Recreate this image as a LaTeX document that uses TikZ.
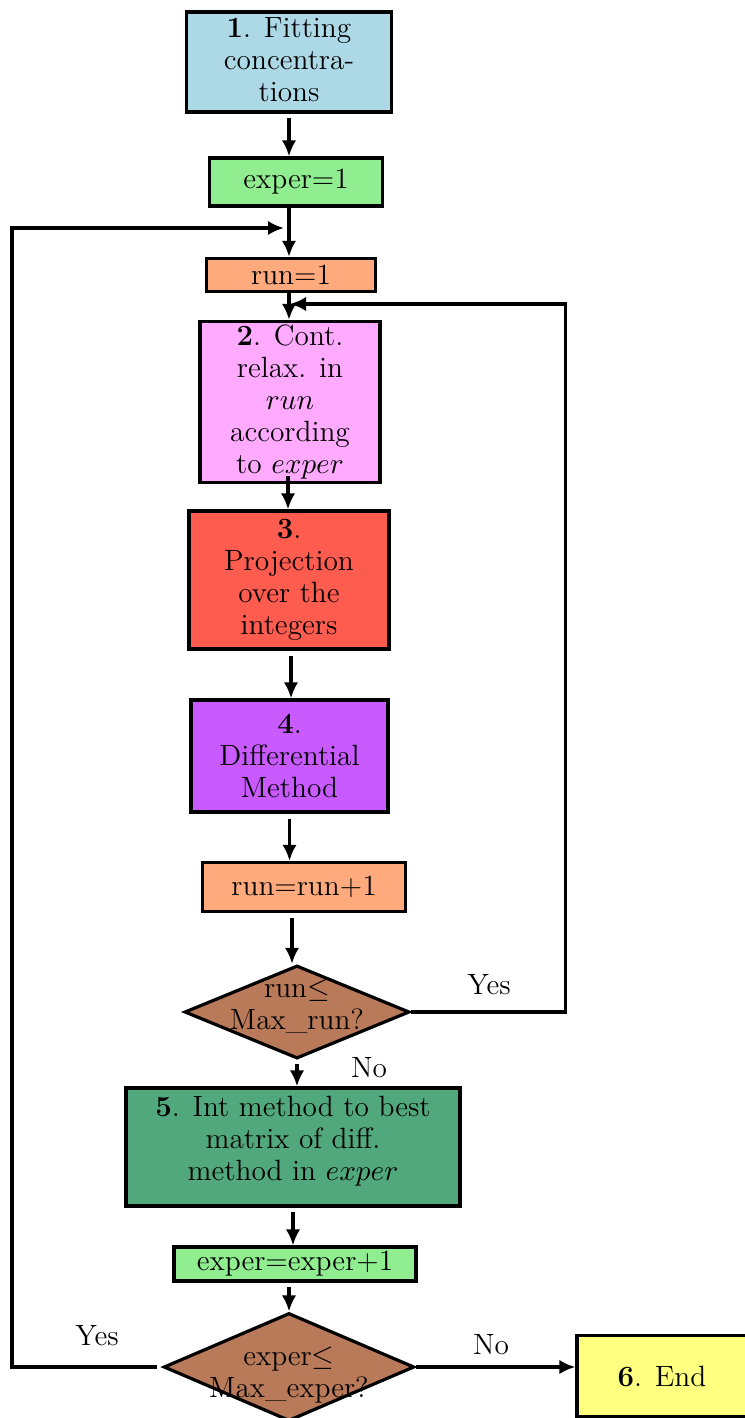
\documentclass[tikz,border=0pt]{standalone}
\usetikzlibrary{shapes.geometric,arrows.meta,calc}
\definecolor{cblue}{RGB}{173,216,230}
\definecolor{cgreen}{RGB}{144,238,144}
\definecolor{csalmon}{RGB}{255,170,125}
\definecolor{cpink}{RGB}{255,170,255}
\definecolor{cred}{RGB}{255,92,80}
\definecolor{cpurple}{RGB}{200,90,255}
\definecolor{cdgreen}{RGB}{82,168,125}
\definecolor{cbrown}{RGB}{185,122,90}
\definecolor{cyellow}{RGB}{255,255,128}
\begin{document}
\begin{tikzpicture}[x=0.375pt,y=-0.375pt,
  every node/.style={font=\fontsize{11}{12}\selectfont},
  box/.style={draw,line width=1.2pt,rectangle,align=center,inner sep=0pt},
  dia/.style={draw,line width=1.2pt,diamond,inner sep=0pt,fill=cbrown},
  arr/.style={line width=1.2pt,-{Latex[length=6pt,width=5.4pt]}},
  lbl/.style={inner sep=0pt}]
\useasboundingbox (0,0) rectangle (744,1418);
\node[box,fill=cblue,minimum width=77pt,minimum height=37.5pt,text depth=2.2pt] (b1) at (289,62) {\textbf{1}. Fitting\\concentra-\\tions};
\node[box,fill=cgreen,minimum width=65pt,minimum height=18pt] (e1) at (296,182) {exper=1};
\node[box,fill=csalmon,minimum width=63.4pt,minimum height=12.4pt] (r1) at (291,275) {run=1};
\node[box,fill=cpink,minimum width=67.5pt,minimum height=60.4pt] (b2) at (290,402) {\textbf{2}. Cont.\\relax. in\\$run$\\according\\to $exper$};
\node[box,fill=cred,minimum width=75pt,minimum height=51.75pt] (b3) at (289,580) {\textbf{3}.\\Projection\\over the\\integers};
\node[box,fill=cpurple,minimum width=73.9pt,minimum height=42pt] (b4) at (289.5,756) {\textbf{4}.\\Differential\\Method};
\node[box,fill=csalmon,minimum width=76.1pt,minimum height=18.4pt] (rr) at (304,887) {run=run+1};
\node[dia,minimum width=84.4pt,minimum height=34.9pt] (d1) at (297,1012) {};
\node[lbl,align=center] (d1t) at ($(d1.center)+(0,-6)$) {run$\leq$\\Max\_run?};
\node[box,fill=cdgreen,minimum width=125.25pt,minimum height=44.25pt,text depth=6.5pt] (b5) at (293,1147) {\textbf{5}. Int method to best\\matrix of diff.\\method in $exper$};
\node[box,fill=cgreen,minimum width=90.75pt,minimum height=12.75pt] (ee) at (295,1264) {exper=exper+1};
\node[dia,minimum width=94pt,minimum height=40.5pt] (d2) at (289,1367) {};
\node[lbl,align=center] (d2t) at ($(d2.center)+(0,8)$) {exper$\leq$\\Max\_exper?};
\node[box,fill=cyellow,minimum width=63.75pt,minimum height=30.5pt] (end) at (662,1376) {\textbf{6}. End};
\node[lbl] (y1) at (489,985) {Yes};
\node[lbl] (n1) at (369,1068) {No};
\node[lbl] (y2) at (97,1336) {Yes};
\node[lbl] (n2) at (491,1345) {No};
\coordinate (jr) at (290,304);
\coordinate (je) at (284,228);
\coordinate (s3) at ($(b3.south)+(2,0)$);
\draw[arr,shorten <=1.5pt] (b1.south) -- (b1.south |- e1.north);
\draw[arr] (e1.south -| b1.south) -- (r1.north -| b1.south);
\draw[arr] (r1.south -| b1.south) -- (b2.north -| b1.south);
\draw[arr] ($(b2.south)+(-2,-8)$) -- ($(b3.north)+(-1,0)$);
\draw[arr,shorten <=2pt] (s3) -- (s3 |- b4.north);
\draw[arr,shorten <=2pt] (b4.south) -- (rr.north -| b4.south);
\draw[arr,shorten <=2pt] ($(rr.south)+(-12,0)$) -- ($(d1.north)+(-5,0)$);
\draw[arr,shorten <=1.5pt] (d1.south) -- (b5.north -| d1.south);
\draw[arr,shorten <=1.5pt] (b5.south) -- (ee.north -| b5.south);
\draw[arr,shorten <=1.5pt] (ee.south -| d2.north) -- (d2.north);
\draw[arr] (d2.east) -- (d2.east -| end.west);
\draw[arr] (d1.east) -- ++(154,0) |- (jr);
\draw[arr,shorten <=2pt] (d2.west) -- ++(-150,0) |- (je);
\end{tikzpicture}
\end{document}
